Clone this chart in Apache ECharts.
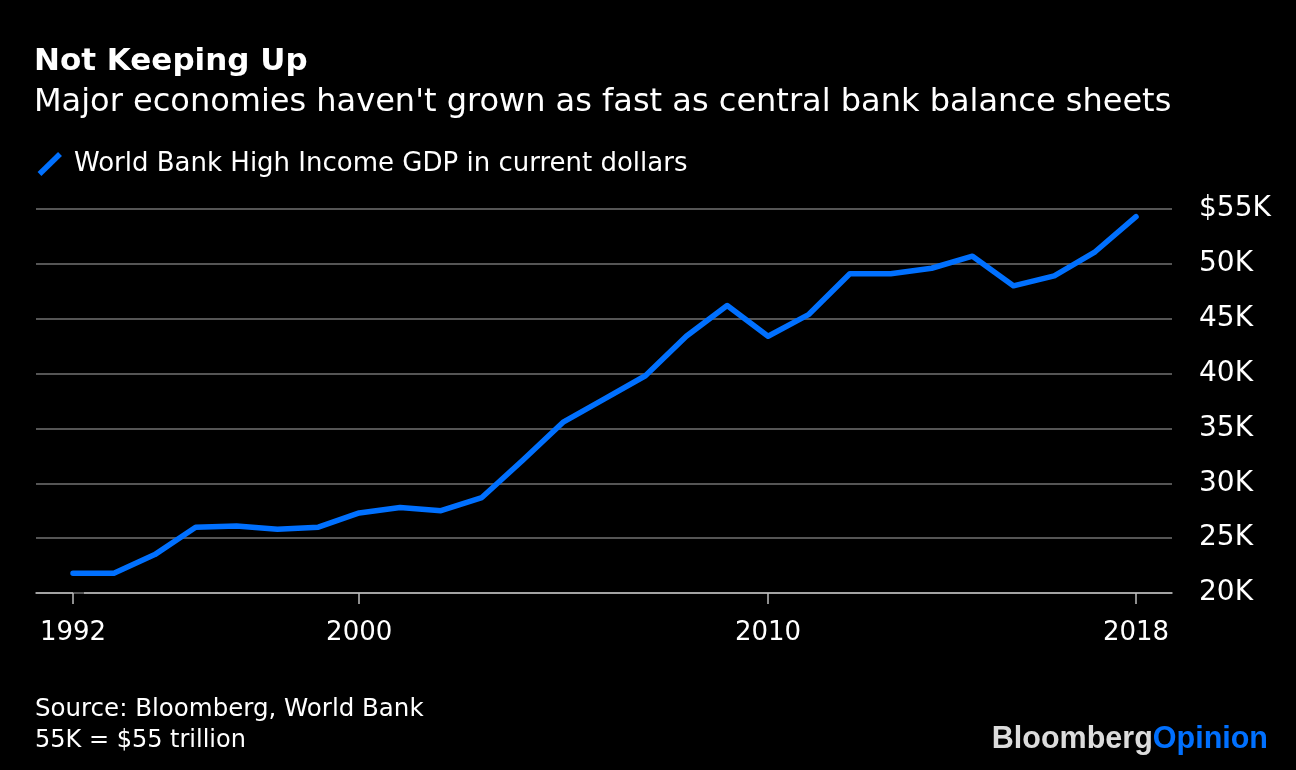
<!DOCTYPE html>
<html>
<head>
<meta charset="utf-8">
<style>
  html, body { margin: 0; padding: 0; background: #000; }
  #chart { width: 1296px; height: 770px; }
</style>
<script src="https://cdn.jsdelivr.net/npm/echarts@6/dist/echarts.min.js"></script>
</head>
<body>
<div id="chart"></div>
<script>
// ---- Data ----
const gdpValues = [21.8, 21.8, 23.5, 26.0, 26.1, 25.8, 26.0, 27.3, 27.8, 27.5,
                   28.7, 32.1, 35.6, 37.7, 39.8, 43.4, 46.2, 43.4, 45.4, 49.1,
                   49.1, 49.6, 50.7, 48.0, 48.9, 51.1, 54.3];
const xTickPositions = [0, 7, 17, 26];
const xTickLabels = ['1992', '2000', '2010', '2018'];
const yMin = 20, yMax = 55, yStep = 5;
const seriesName = 'World Bank High Income GDP in current dollars';

const FONT = '"DejaVu Sans", sans-serif';
const BLUE = '#0070ff';

const chart = echarts.init(document.getElementById('chart'), null, { renderer: 'canvas' });

const option = {
  backgroundColor: '#000',
  animation: false,
  grid: { left: 36, right: 124, top: 209, bottom: 177, containLabel: false },
  xAxis: {
    type: 'value',
    min: -0.905,
    max: 26.88,
    splitLine: { show: false },
    axisLine: { show: true, lineStyle: { color: '#bdbdbd', width: 1.5 } },
    axisTick: {
      show: true, length: 11, inside: false,
      customValues: xTickPositions,
      lineStyle: { color: '#bdbdbd', width: 1.5 }
    },
    axisLabel: {
      show: true,
      customValues: xTickPositions,
      formatter: function (v) {
        const i = xTickPositions.indexOf(Math.round(v));
        return i >= 0 ? xTickLabels[i] : '';
      },
      color: '#fff', fontSize: 26, fontFamily: FONT, margin: 27
    }
  },
  yAxis: {
    type: 'value',
    position: 'right',
    min: yMin, max: yMax, interval: yStep,
    axisLine: { show: true, lineStyle: { color: '#555', opacity: 0 } },
    axisTick: { show: true, length: 11, inside: false, lineStyle: { color: '#555', width: 2 } },
    splitLine: { show: true, lineStyle: { color: '#555', width: 2 } },
    axisLabel: {
      color: '#fff', fontSize: 28, fontFamily: FONT, margin: 27, align: 'left',
      formatter: function (v) { return (v === yMax ? '$' : '') + v + 'K'; }
    }
  },
  series: [{
    type: 'line',
    name: seriesName,
    data: gdpValues.map((v, i) => [i, v]),
    showSymbol: false,
    symbol: 'none',
    lineStyle: { color: BLUE, width: 5.5, cap: 'round', join: 'round' },
    z: 5
  }],
  graphic: [
    { type: 'text', x: 34, y: 62,
      style: { text: 'Not Keeping Up', fill: '#fff', font: 'bold 31px ' + FONT, verticalAlign: 'middle' } },
    { type: 'text', x: 34, y: 102.5,
      style: { text: "Major economies haven't grown as fast as central bank balance sheets", fill: '#fff', font: '32px ' + FONT, verticalAlign: 'middle' } },
    { type: 'line', shape: { x1: 39.5, y1: 174, x2: 60, y2: 154 },
      style: { stroke: BLUE, lineWidth: 5.5, lineCap: 'butt' } },
    { type: 'text', x: 74, y: 164,
      style: { text: seriesName, fill: '#fff', font: '26px ' + FONT, verticalAlign: 'middle' } },
    { type: 'text', x: 35, y: 710,
      style: { text: 'Source: Bloomberg, World Bank', fill: '#fff', font: '24.5px ' + FONT, verticalAlign: 'middle' } },
    { type: 'text', x: 35, y: 741,
      style: { text: '55K = $55 trillion', fill: '#fff', font: '24px ' + FONT, verticalAlign: 'middle' } },
    { type: 'text', x: 1268, y: 740,
      style: {
        text: '{a|Bloomberg}{b|Opinion}', align: 'right', verticalAlign: 'middle',
        rich: {
          a: { fill: '#dcdcdc', font: 'bold 30.5px "Liberation Sans", Arial, sans-serif' },
          b: { fill: BLUE, font: 'bold 30.5px "Liberation Sans", Arial, sans-serif' }
        }
      } }
  ]
};

chart.setOption(option);
</script>
</body>
</html>
